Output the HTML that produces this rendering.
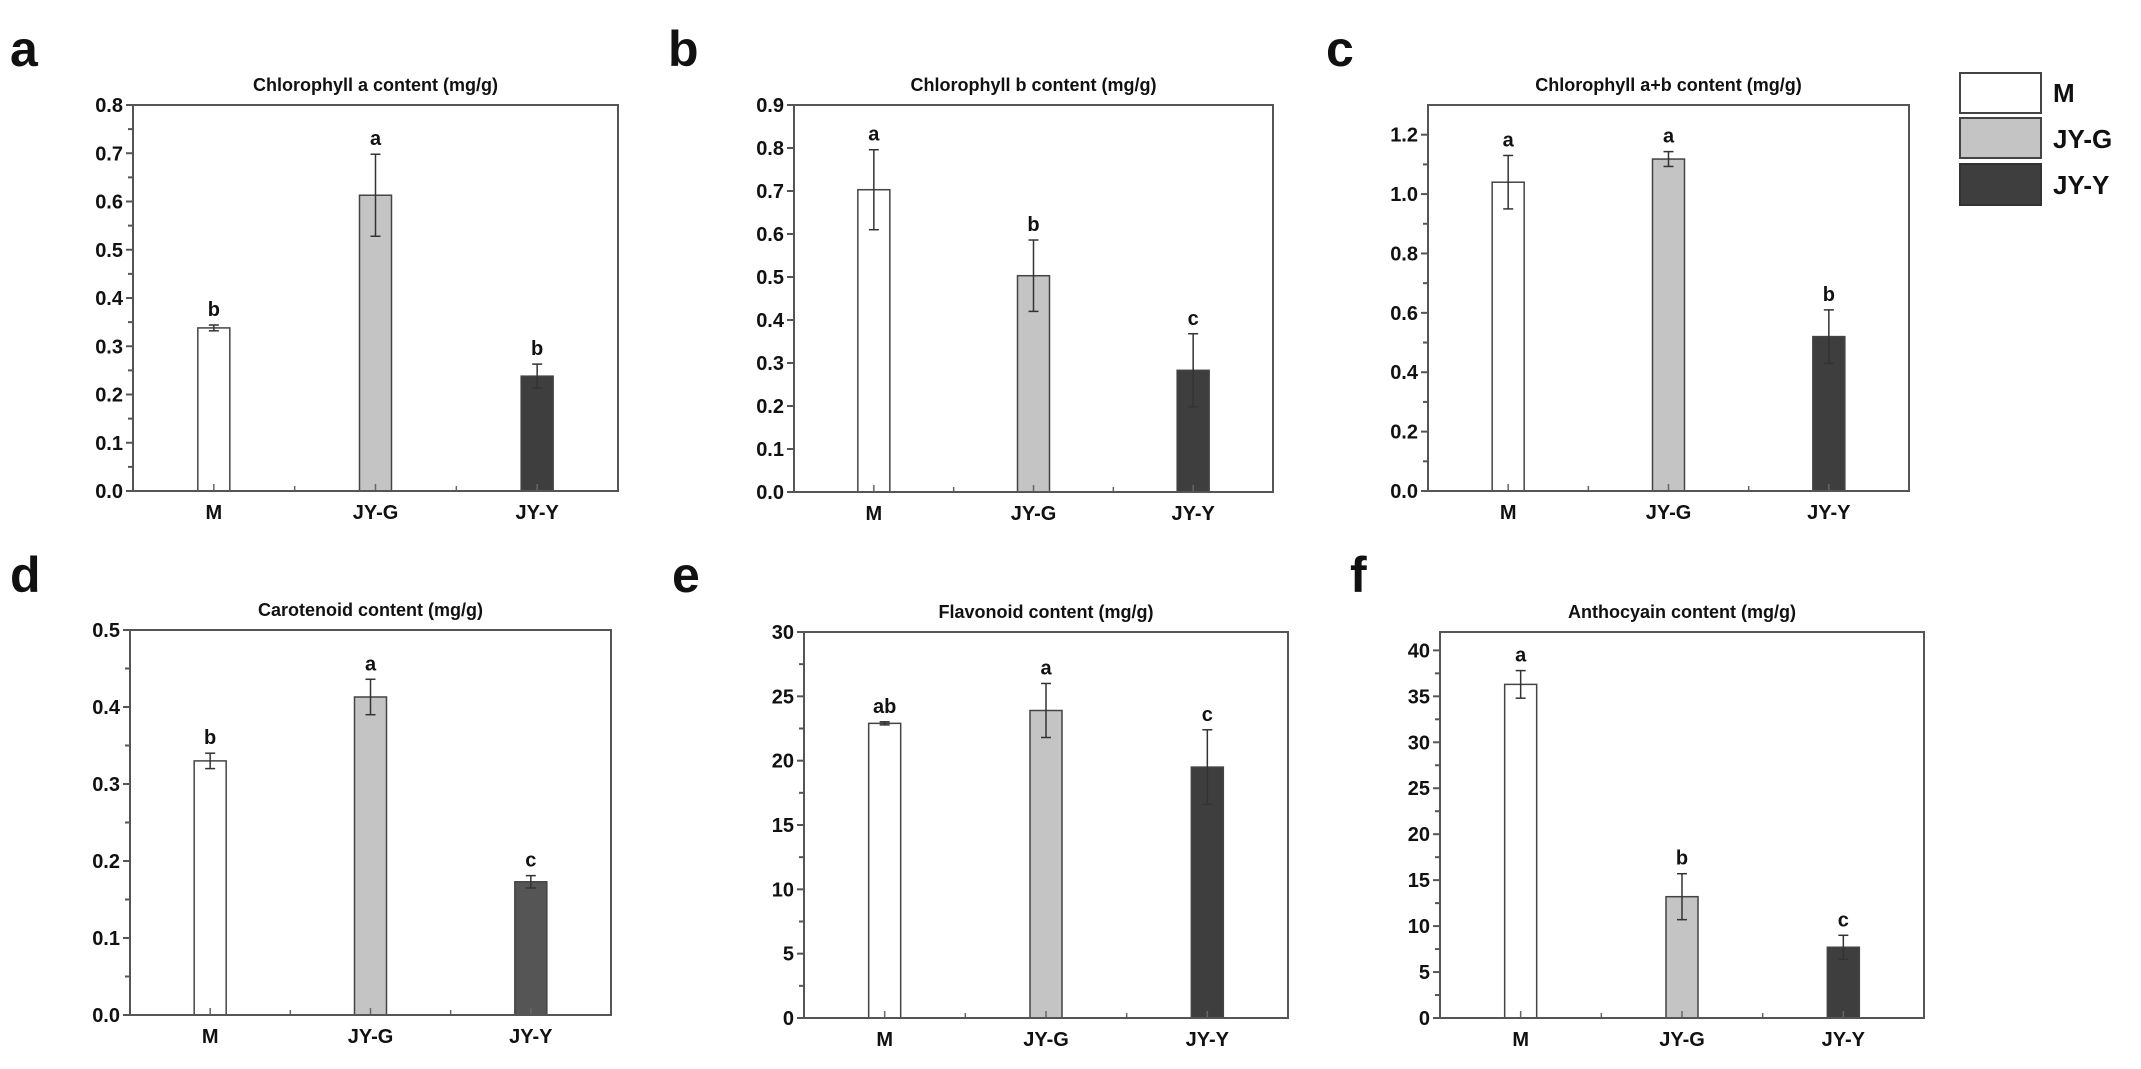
<!DOCTYPE html>
<html><head><meta charset="utf-8"><style>
html,body{margin:0;padding:0;background:#fff;}
svg text{font-family:"Liberation Sans",Arial,sans-serif;font-weight:bold;fill:#111;}
</style></head><body>
<svg id="fig" width="2141" height="1064" viewBox="0 0 2141 1064" xmlns="http://www.w3.org/2000/svg">
<g>
<rect x="1960" y="73" width="81" height="40" fill="#fff" stroke="#444" stroke-width="2"/>
<rect x="1960" y="118" width="81" height="40" fill="#c4c4c4" stroke="#444" stroke-width="2"/>
<rect x="1960" y="164" width="81" height="41" fill="#3e3e3e" stroke="#333" stroke-width="2"/>
<text x="2053" y="102" font-size="26">M</text>
<text x="2053" y="148" font-size="26">JY-G</text>
<text x="2053" y="194" font-size="26">JY-Y</text>
</g>
</svg>
<script>
const categories = ["M", "JY-G", "JY-Y"];
const valsA = [0.338, 0.613, 0.238], errA = [0.006, 0.085, 0.025], letA = ["b", "a", "b"];
const valsB = [0.703, 0.503, 0.283], errB = [0.093, 0.083, 0.085], letB = ["a", "b", "c"];
const valsC = [1.04, 1.118, 0.52], errC = [0.09, 0.025, 0.09], letC = ["a", "a", "b"];
const valsD = [0.330, 0.413, 0.173], errD = [0.010, 0.023, 0.008], letD = ["b", "a", "c"];
const valsE = [22.9, 23.9, 19.5], errE = [0.12, 2.1, 2.9], letE = ["ab", "a", "c"];
const valsF = [36.3, 13.2, 7.7], errF = [1.5, 2.5, 1.3], letF = ["a", "b", "c"];
const ticksA = ["0.0","0.1","0.2","0.3","0.4","0.5","0.6","0.7","0.8"];
const ticksB = ["0.0","0.1","0.2","0.3","0.4","0.5","0.6","0.7","0.8","0.9"];
const ticksC = ["0.0","0.2","0.4","0.6","0.8","1.0","1.2"];
const ticksD = ["0.0","0.1","0.2","0.3","0.4","0.5"];
const ticksE = ["0","5","10","15","20","25","30"];
const ticksF = ["0","5","10","15","20","25","30","35","40"];
const titles = ["Chlorophyll a content (mg/g)","Chlorophyll b content (mg/g)","Chlorophyll a+b content (mg/g)","Carotenoid content (mg/g)","Flavonoid content (mg/g)","Anthocyain content (mg/g)"];

const NS = "http://www.w3.org/2000/svg";
const svg = document.getElementById("fig");
function mk(tag, attrs, parent, txt){
  const e = document.createElementNS(NS, tag);
  for (const k in attrs) e.setAttribute(k, attrs[k]);
  if (txt !== undefined) e.textContent = txt;
  parent.appendChild(e);
  return e;
}
const panels = [
  {id:"a", x0:133, x1:618, y0:105, y1:491, max:0.8, vals:valsA, err:errA, let:letA, ticks:ticksA, minor:true, lx:10, ly:66, dark:"#3e3e3e"},
  {id:"b", x0:794, x1:1273, y0:105, y1:492, max:0.9, vals:valsB, err:errB, let:letB, ticks:ticksB, minor:false, lx:668, ly:66, dark:"#3e3e3e"},
  {id:"c", x0:1428, x1:1909, y0:105, y1:491, max:1.3, vals:valsC, err:errC, let:letC, ticks:ticksC, minor:true, lx:1326, ly:66, dark:"#3e3e3e"},
  {id:"d", x0:130, x1:611, y0:630, y1:1015, max:0.5, vals:valsD, err:errD, let:letD, ticks:ticksD, minor:true, lx:10, ly:592, dark:"#555555"},
  {id:"e", x0:804, x1:1288, y0:632, y1:1018, max:30, vals:valsE, err:errE, let:letE, ticks:ticksE, minor:true, lx:672, ly:592, dark:"#3e3e3e"},
  {id:"f", x0:1440, x1:1924, y0:632, y1:1018, max:42, vals:valsF, err:errF, let:letF, ticks:ticksF, minor:true, lx:1350, ly:592, dark:"#3e3e3e"}
];
panels.forEach((p, pi) => {
  const g = mk("g", {}, svg);
  
  
  const yS = v => p.y1 - (v / p.max) * (p.y1 - p.y0);
  const W = p.x1 - p.x0;
  const xS = i => p.x0 + W * (i + 0.5) / 3;
  const lbl = mk("text", {x:p.lx, y:p.ly, "font-size":50}, g, p.id);
  
  
  const t = mk("text", {x:(p.x0+p.x1)/2, y:p.y0-14, "font-size":18, "text-anchor":"middle"}, g, titles[pi]);
  
  
  // y ticks
  const n = p.ticks.length;
  const step = parseFloat(p.ticks[1]) - parseFloat(p.ticks[0]);
  p.ticks.forEach((tk, i) => {
    const v = parseFloat(tk), y = yS(v);
    mk("line", {x1:p.x0-7, x2:p.x0, y1:y, y2:y, stroke:"#555", "stroke-width":2}, g);
    const tt = mk("text", {x:p.x0-10, y:y+7, "font-size":20, "text-anchor":"end"}, g, tk);
    
    
    const mv = v + step/2;
    if (p.minor && mv < p.max) {
      const my = yS(mv);
      mk("line", {x1:p.x0-5, x2:p.x0, y1:my, y2:my, stroke:"#555", "stroke-width":2}, g);
    }
  });
  // bars
  const fills = ["#ffffff", "#c4c4c4", p.dark];
  categories.forEach((c, i) => {
    const cx = xS(i), bw = 32, v = p.vals[i], e = p.err[i];
    const r = mk("rect", {x:cx-bw/2, y:yS(v), width:bw, height:p.y1-yS(v), fill:fills[i], stroke:"#444", "stroke-width":1.5}, g);
    
    
    mk("line", {x1:cx, x2:cx, y1:yS(v+e), y2:yS(v-e), stroke:"#333", "stroke-width":1.5}, g);
    mk("line", {x1:cx-5, x2:cx+5, y1:yS(v+e), y2:yS(v+e), stroke:"#333", "stroke-width":1.5}, g);
    mk("line", {x1:cx-5, x2:cx+5, y1:yS(v-e), y2:yS(v-e), stroke:"#333", "stroke-width":1.5}, g);
    const lt = mk("text", {x:cx, y:yS(v+e)-9, "font-size":20, "text-anchor":"middle"}, g, p.let[i]);
    
    
    const xt = mk("text", {x:cx, y:p.y1+28, "font-size":20, "text-anchor":"middle"}, g, c);
    
    
    mk("line", {x1:cx, x2:cx, y1:p.y1-7, y2:p.y1, stroke:"#666", "stroke-width":1.5}, g);
    if (i > 0) mk("line", {x1:p.x0+W*i/3, x2:p.x0+W*i/3, y1:p.y1-5, y2:p.y1, stroke:"#666", "stroke-width":1.5}, g);
  });
  const fr = mk("rect", {x:p.x0, y:p.y0, width:W, height:p.y1-p.y0, fill:"none", stroke:"#555", "stroke-width":2}, g);
  
  
});
</script>
</body></html>
